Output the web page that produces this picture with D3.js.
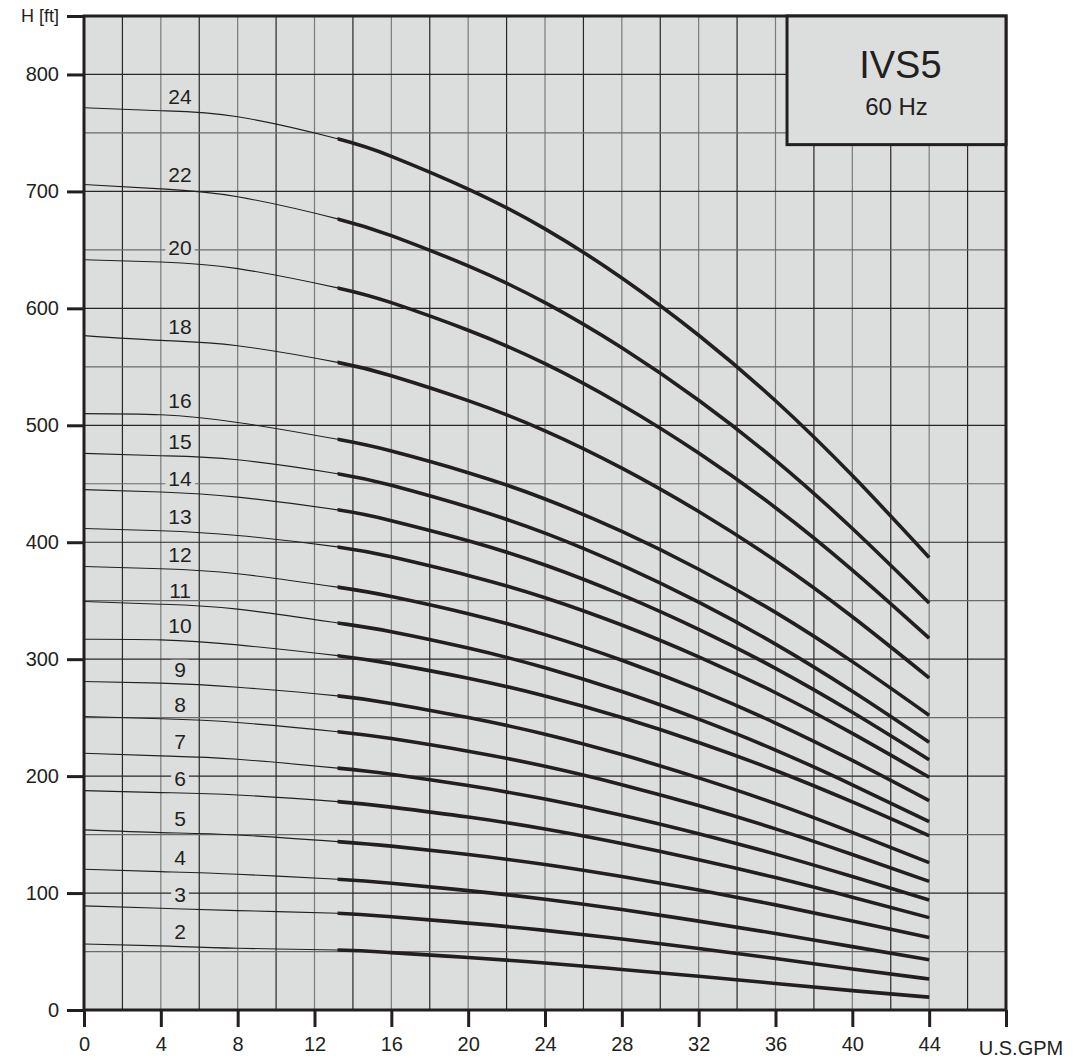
<!DOCTYPE html>
<html>
<head>
<meta charset="utf-8">
<script src="https://cdn.jsdelivr.net/npm/d3@7"></script>
<style>
  body { margin: 0; background: #fff; }
  svg text { font-family: "Liberation Sans", Arial, sans-serif; fill: #231f20; }
</style>
</head>
<body>
<div id="chart"></div>
<script>
// flow points (U.S. GPM) where the head values were read
const flow = [0, 4, 8, 13.2, 16, 20, 24, 28, 32, 36, 40, 44];
const thickFrom = 13.2;

// head [ft] per number of stages
const h24 = [771.5, 769, 763.8, 745, 730, 702, 668, 626, 577, 521, 457, 387];
const h22 = [705.9, 702.2, 695.4, 676.5, 662.2, 636.3, 604.9, 566.3, 521.4, 470.1, 411.7, 348];
const h20 = [641.5, 639.7, 634, 617.5, 604.9, 581.3, 552.7, 517.4, 476.3, 429.5, 376.2, 318];
const h18 = [576.7, 572.6, 568, 553.8, 542.4, 521.1, 495.3, 463.4, 426.3, 384.2, 336.3, 284];
const h16 = [510, 509, 502.4, 488, 478, 459.5, 437, 409.2, 376.9, 340, 297.9, 252];
const h15 = [476, 474, 470.5, 458.6, 448.7, 430.1, 407.8, 380.4, 348.7, 312.9, 272.6, 229];
const h14 = [445, 443, 438.6, 427.7, 418.4, 401.3, 380.5, 355, 325.5, 292.2, 254.6, 214];
const h13 = [411.7, 409.8, 405.8, 396, 387.5, 371.6, 352.6, 329.2, 302, 271.3, 236.5, 199];
const h12 = [379.2, 377.3, 373, 361.6, 353.6, 338.9, 321, 299.1, 273.9, 245.4, 213.4, 179];
const h11 = [349.3, 347, 342.8, 331, 323.5, 309.5, 292.7, 272.3, 248.7, 222.3, 192.6, 161];
const h10 = [317, 316.5, 312.2, 303, 296.2, 283.7, 268.5, 250.1, 228.8, 204.8, 177.9, 149];
const h9  = [280.9, 279.5, 276, 268.6, 262.1, 250.1, 235.8, 218.4, 198.5, 176.5, 151.9, 126];
const h8  = [251, 249, 245.8, 238, 232.1, 221.3, 208.4, 192.7, 174.8, 154.9, 133, 110];
const h7  = [219.6, 217.3, 214.4, 206.8, 201.6, 191.9, 180.4, 166.6, 150.8, 133.3, 114.1, 94];
const h6  = [187.6, 185.9, 183.9, 178.2, 173.5, 165, 154.8, 142.4, 128.5, 113.2, 96.4, 79];
const h5  = [154, 151.7, 149.7, 144, 140.1, 132.9, 124.4, 114.1, 102.6, 89.9, 76.2, 62];
const h4  = [120.4, 118.3, 116.1, 111.8, 108.4, 102.1, 94.7, 85.9, 76, 65.5, 54.2, 43];
const h3  = [89, 87, 85, 82.7, 79.7, 74.3, 68.1, 60.7, 52.6, 44, 35.1, 26.5];
const h2  = [56.5, 54.8, 52.8, 51.3, 49.1, 44.9, 40.2, 34.7, 28.8, 22.7, 16.6, 11];

const stages = [2, 3, 4, 5, 6, 7, 8, 9, 10, 11, 12, 13, 14, 15, 16, 18, 20, 22, 24];
const heads = [h2, h3, h4, h5, h6, h7, h8, h9, h10, h11, h12, h13, h14, h15, h16, h18, h20, h22, h24];

const xTicks = [0, 4, 8, 12, 16, 20, 24, 28, 32, 36, 40, 44, 48];
const yTicks = [0, 100, 200, 300, 400, 500, 600, 700, 800, 850];
const xUnit = "U.S.GPM";
const yUnit = "H [ft]";
const title = "IVS5";
const subtitle = "60 Hz";

const width = 1075, height = 1060;
const ink = "#231f20", paper = "#dcdedd";

const x = d3.scaleLinear().domain([0, 48]).range([84, 1006]);
const y = d3.scaleLinear().domain([0, 850]).range([1010, 16]);

const svg = d3.select("#chart").append("svg")
  .attr("width", width)
  .attr("height", height);

svg.append("defs").append("clipPath")
  .attr("id", "thick")
  .append("rect")
  .attr("x", x(thickFrom)).attr("y", 0)
  .attr("width", x(48) - x(thickFrom)).attr("height", height);

svg.append("rect")
  .attr("x", x(0)).attr("y", y(850))
  .attr("width", x(48) - x(0)).attr("height", y(0) - y(850))
  .attr("fill", paper);

// grid
svg.append("g").selectAll("line")
  .data(d3.range(2, 48, 2))
  .join("line")
  .attr("x1", d => x(d)).attr("x2", d => x(d))
  .attr("y1", y(0)).attr("y2", y(850))
  .attr("stroke", d => d % 4 === 0 ? "#7a7a7a" : "#2b2626")
  .attr("stroke-width", 1.2);

svg.append("g").selectAll("line")
  .data(d3.range(50, 850, 50))
  .join("line")
  .attr("x1", x(0)).attr("x2", x(48))
  .attr("y1", d => y(d)).attr("y2", d => y(d))
  .attr("stroke", d => d % 100 === 0 ? "#2b2626" : "#6a6a6a")
  .attr("stroke-width", 1.2);

// curves: thin over the whole range, thick part clipped from thickFrom on
const line = d3.line()
  .x(d => x(d[0]))
  .y(d => y(d[1]))
  .curve(d3.curveNatural);

const curves = svg.append("g");
stages.forEach((n, i) => {
  const pts = flow.map((q, j) => [q, heads[i][j]]);
  curves.append("path")
    .datum(pts)
    .attr("fill", "none")
    .attr("stroke", ink)
    .attr("stroke-width", 1.1)
    .attr("d", line);
  curves.append("path")
    .datum(pts)
    .attr("fill", "none")
    .attr("stroke", ink)
    .attr("stroke-width", 3.6)
    .attr("clip-path", "url(#thick)")
    .attr("d", line);
});

// stage labels
const labels = svg.append("g");
stages.forEach((n, i) => {
  const g = labels.append("g")
    .attr("transform", `translate(${x(5)},${y(heads[i][1]) - 14})`);
  const t = g.append("text")
    .attr("text-anchor", "middle")
    .attr("dy", "0.36em")
    .attr("font-size", 21)
    .text(n);
  const b = t.node().getBBox();
  g.insert("rect", "text")
    .attr("x", b.x - 3).attr("y", b.y + 2)
    .attr("width", b.width + 6).attr("height", b.height - 4)
    .attr("fill", paper);
});

// frame
svg.append("rect")
  .attr("x", x(0)).attr("y", y(850))
  .attr("width", x(48) - x(0)).attr("height", y(0) - y(850))
  .attr("fill", "none")
  .attr("stroke", ink)
  .attr("stroke-width", 3);

// axes
const yAxis = svg.append("g")
  .attr("transform", `translate(${x(0)},0)`)
  .call(d3.axisLeft(y).tickValues(yTicks).tickSize(17).tickPadding(8)
    .tickFormat(d => d === 850 ? yUnit : d));
yAxis.select(".domain").remove();
yAxis.selectAll(".tick line").attr("stroke", ink).attr("stroke-width", 3);
yAxis.selectAll(".tick text")
  .attr("font-size", 20)
  .attr("font-family", "Liberation Sans, Arial, sans-serif");
yAxis.selectAll(".tick").filter(d => d === 850).select("text").attr("font-size", 18);

const xAxis = svg.append("g")
  .attr("transform", `translate(0,${y(0)})`)
  .call(d3.axisBottom(x).tickValues(xTicks).tickSize(17).tickPadding(10)
    .tickFormat(d => d === 48 ? "" : d));
xAxis.select(".domain").remove();
xAxis.selectAll(".tick line").attr("stroke", ink).attr("stroke-width", 3);
xAxis.selectAll(".tick text")
  .attr("font-size", 20)
  .attr("font-family", "Liberation Sans, Arial, sans-serif");

svg.append("text")
  .attr("x", x(48) + 15)
  .attr("y", 1055)
  .attr("text-anchor", "middle")
  .attr("font-size", 20)
  .text(xUnit);

// title box
svg.append("rect")
  .attr("x", x(36.6)).attr("y", y(850))
  .attr("width", x(48) - x(36.6)).attr("height", y(740) - y(850))
  .attr("fill", paper)
  .attr("stroke", ink)
  .attr("stroke-width", 3);

svg.append("text")
  .attr("x", x(42.5)).attr("y", 78)
  .attr("text-anchor", "middle")
  .attr("font-size", 38)
  .text(title);

svg.append("text")
  .attr("x", x(42.3)).attr("y", 115)
  .attr("text-anchor", "middle")
  .attr("font-size", 24)
  .text(subtitle);
</script>
</body>
</html>
